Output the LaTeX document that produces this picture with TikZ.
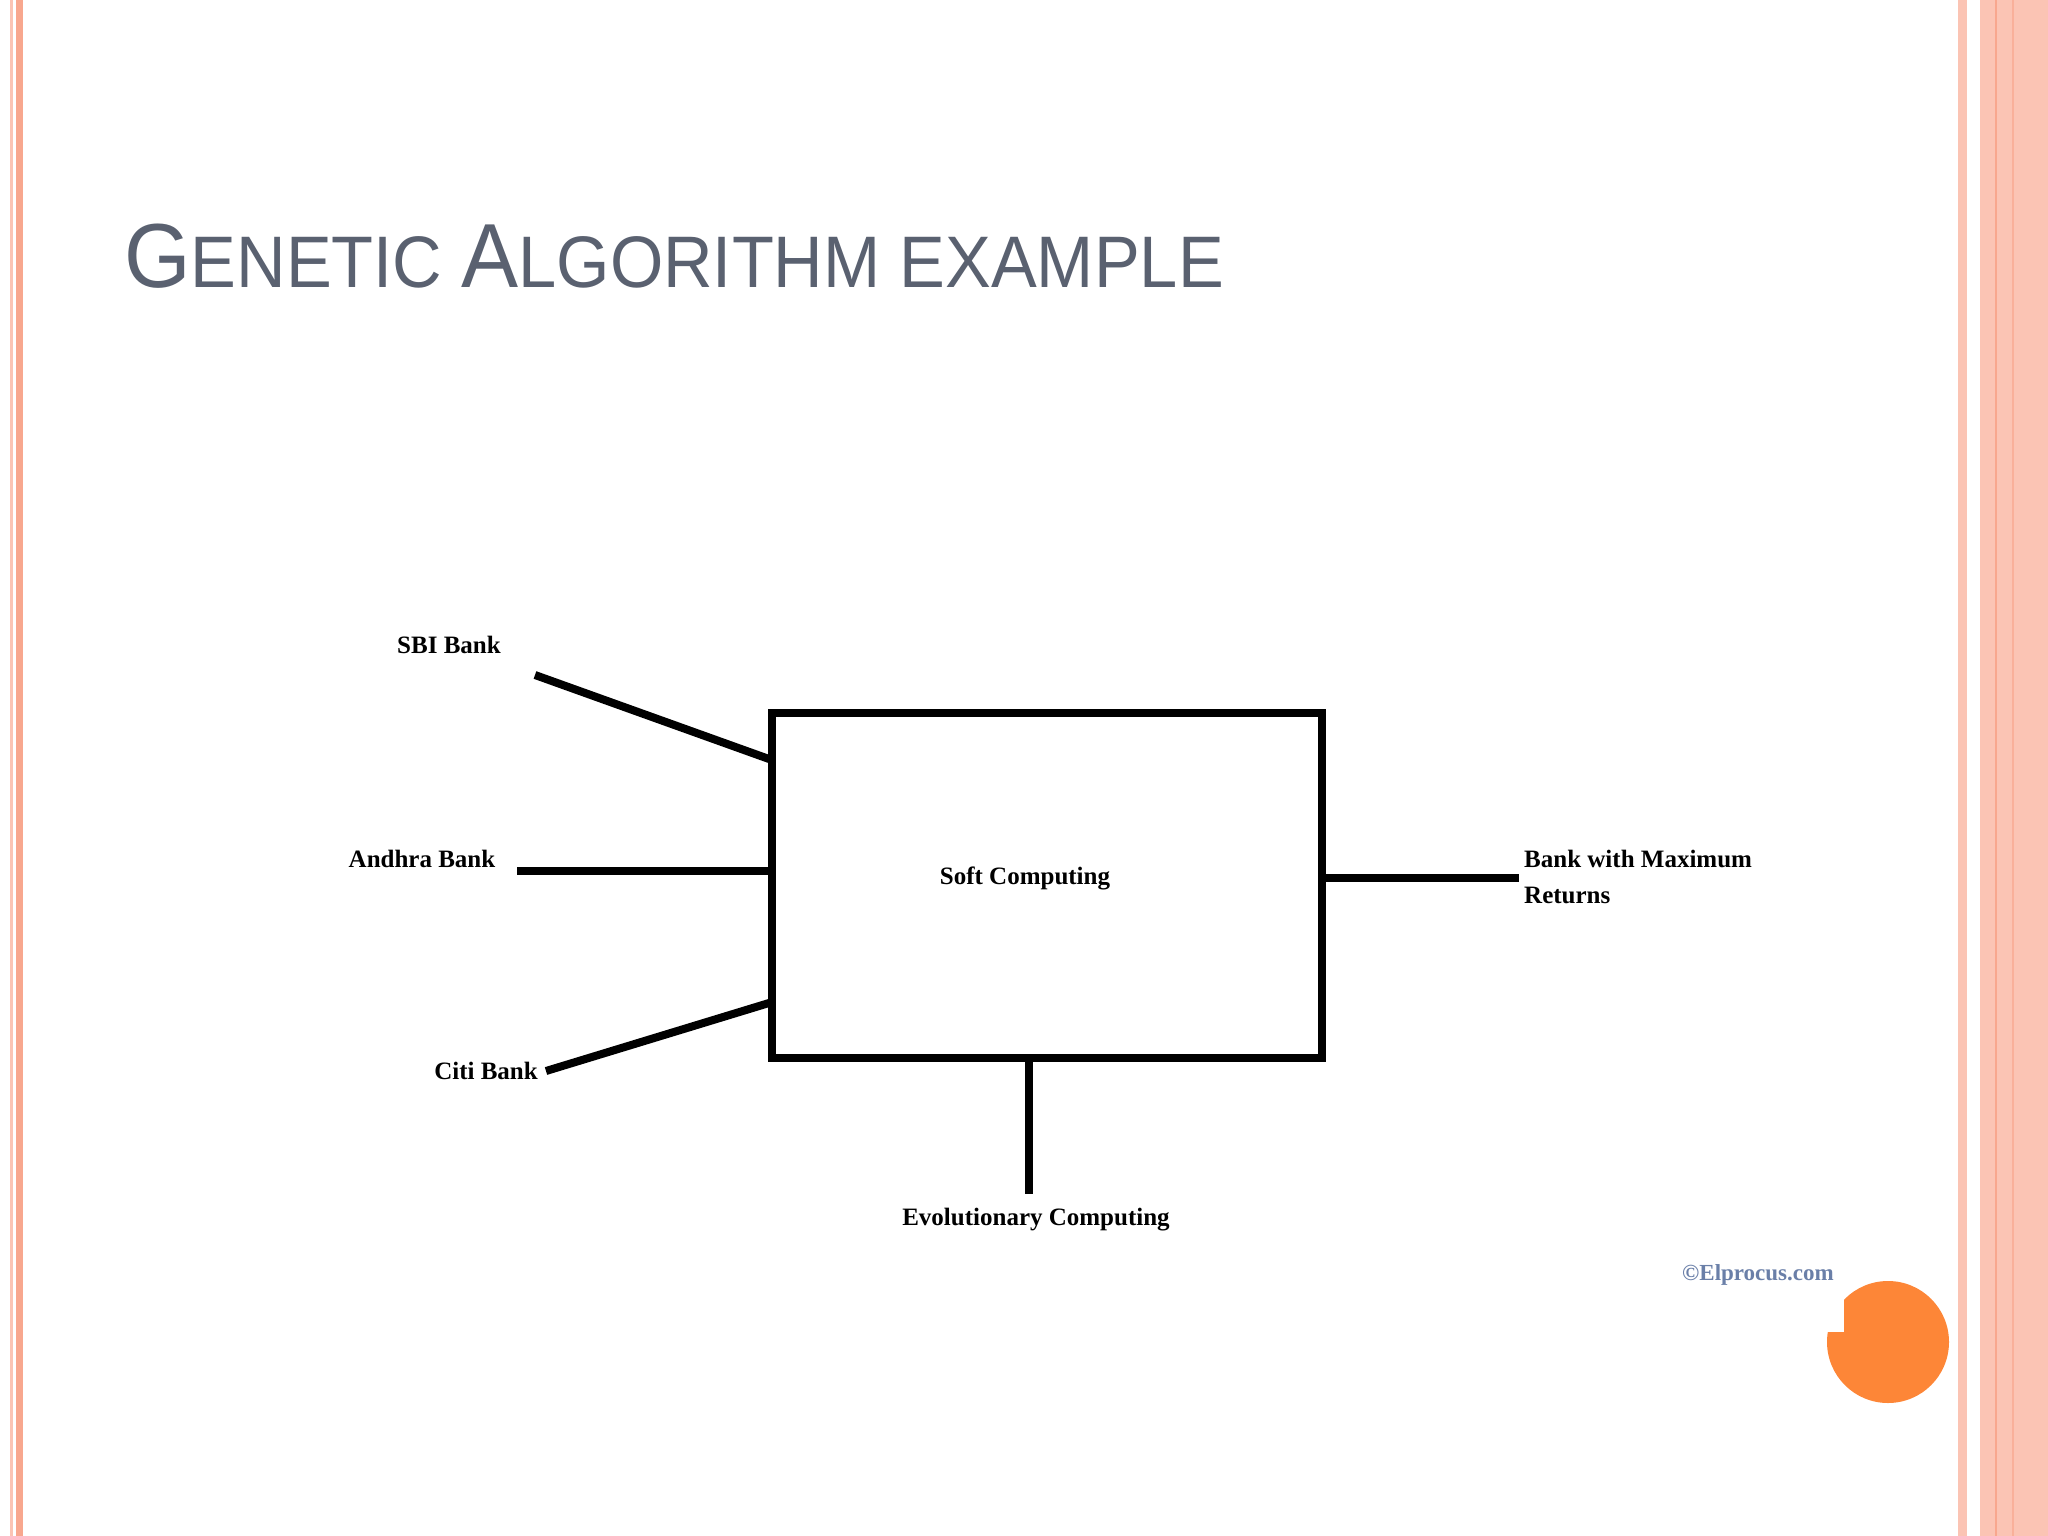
\documentclass[tikz,border=0pt]{standalone}
\usepackage{fontspec}
\setmainfont{Liberation Serif}
\newfontfamily\tsans{Liberation Sans}
\begin{document}
\begin{tikzpicture}[x=1pt,y=-1pt,
  lbl/.style={font=\fontsize{25}{36}\selectfont\bfseries, inner sep=0},
  wire/.style={line width=8pt}]
\useasboundingbox (0,0) rectangle (2048,1536);
\definecolor{stripe}{HTML}{FBC4B4}
\definecolor{stripedk}{HTML}{F8A78E}
\definecolor{titlec}{HTML}{5A6170}
\definecolor{orng}{HTML}{FD8637}
\definecolor{elp}{HTML}{6A7FA8}
% stripes
\fill[stripe] (10,0) rectangle (13,1536);
\fill[stripedk] (16,0) rectangle (23,1536);
\fill[stripe] (1958,0) rectangle (1967,1536);
\fill[stripe] (1980,0) rectangle (2048,1536);
\fill[stripedk] (1995,0) rectangle (1997,1536);
\fill[stripedk!70!stripe] (2012,0) rectangle (2014,1536);
% title
\node[anchor=base west, inner sep=0, text=titlec, xscale=0.94] (title) at (124,287)
 {\tsans\fontsize{91}{91}\selectfont G\fontsize{73}{73}\selectfont ENETIC \fontsize{91}{91}\selectfont A\fontsize{73}{73}\selectfont LGORITHM EXAMPLE};
% box
\draw[wire] (772,713) rectangle (1322,1058);
\node[lbl] (soft) at (1025,878) {Soft Computing};
\coordinate (b1) at (769,759);
\coordinate (b2) at (769,871);
\coordinate (b3) at (769,1003);
\coordinate (b4) at (1322,878);
\coordinate (b5) at (1029,1058);
\coordinate (s1) at (535,675);
\coordinate (s2) at (517,871);
\coordinate (s3) at (546,1071);
\coordinate (s4) at (1519,878);
\coordinate (s5) at (1029,1194);
\draw[wire] (s1) -- (b1);
\draw[wire] (s2) -- (b2);
\draw[wire] (s3) -- (b3);
\draw[wire] (b4) -- (s4);
\draw[wire] (b5) -- (s5);
\node[lbl] (sbi) at (449,645) {SBI Bank};
\node[lbl] (andhra) at (422,859) {Andhra Bank};
\node[lbl] (citi) at (486,1071) {Citi Bank};
\node[lbl, anchor=west, align=left] (bank) at (1524,877) {Bank with Maximum\\Returns};
\node[lbl] (evo) at (1036,1220) {Evolutionary Computing};
\node[font=\fontsize{23}{26}\selectfont\bfseries, text=elp, inner sep=0] (elp) at (1758,1275) {\textcopyright Elprocus.com};
% orange circle with notch
\fill[orng] (1888,1342) circle (61);
\fill[white] (1820,1284) rectangle (1844,1332);
\end{tikzpicture}
\end{document}
